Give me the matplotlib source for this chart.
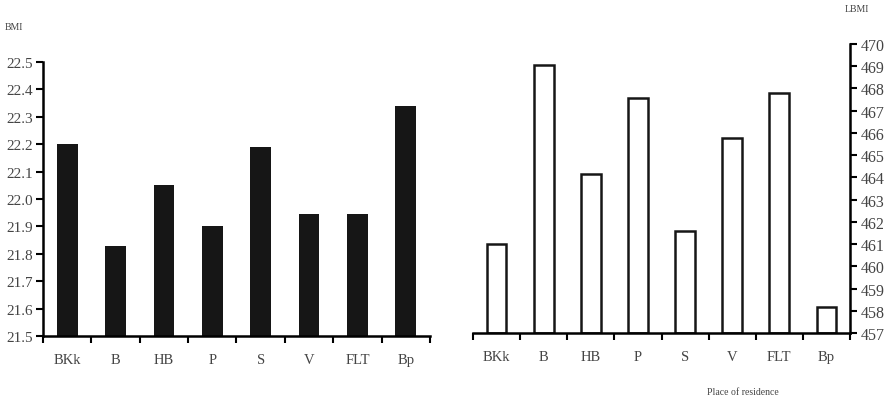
import matplotlib
matplotlib.use("Agg")
import matplotlib.pyplot as plt
import numpy as np

categories = ["BKk", "B", "HB", "P", "S", "V", "FLT", "Bp"]
bmi_values = [22.20, 21.83, 22.05, 21.90, 22.19, 21.945, 21.945, 22.34]
lbmi_values = [461.0, 469.05, 464.15, 467.55, 461.6, 465.77, 467.8, 458.15]
bmi_ticks = [21.5, 21.6, 21.7, 21.8, 21.9, 22.0, 22.1, 22.2, 22.3, 22.4, 22.5]
lbmi_ticks = list(range(457, 471))

plt.rcParams['font.family'] = ['Liberation Serif', 'DejaVu Serif']
txt = '#444444'

fig = plt.figure(figsize=(8.9, 4.02), dpi=100)
x = np.arange(len(categories))

# Left chart (BMI)
ax1 = fig.add_axes([43/890, 1-337/402, 387/890, 274/402])
ax1.bar(x, np.array(bmi_values) - 21.5, bottom=21.5, width=0.43, color='#161616')
ax1.set_ylim(21.5, 22.5)
ax1.set_xlim(-0.5, len(categories) - 0.5)
ax1.set_yticks(bmi_ticks)
ax1.set_yticklabels([f"{t:.1f}" for t in bmi_ticks], fontsize=11, color=txt)
ax1.set_xticks(np.arange(-0.5, len(categories)))
ax1.set_xticklabels([])
ax1.set_xticks(x, minor=True)
ax1.set_xticklabels(categories, minor=True, fontsize=10.5, color=txt)
ax1.tick_params(axis='x', which='minor', length=0, pad=12)
ax1.tick_params(axis='x', which='major', direction='out', length=5, width=1.5)
ax1.tick_params(axis='y', direction='out', length=5, width=1.5, pad=2)
for s in ['top', 'right']:
    ax1.spines[s].set_visible(False)
for s in ['left', 'bottom']:
    ax1.spines[s].set_linewidth(1.8)
fig.text(5/890, 1-27/402, "BMI", fontsize=7, color=txt, va='center', ha='left')

# Right chart (LBMI)
ax2 = fig.add_axes([473/890, 1-334/402, 377/890, 289/402])
ax2.bar(x, np.array(lbmi_values) - 457, bottom=457, width=0.42, facecolor='white',
        edgecolor='#161616', linewidth=1.8)
ax2.set_ylim(457, 470)
ax2.set_xlim(-0.5, len(categories) - 0.5)
ax2.yaxis.tick_right()
ax2.set_yticks(lbmi_ticks)
ax2.set_yticklabels([str(t) for t in lbmi_ticks], fontsize=11.5, color=txt)
ax2.set_xticks(np.arange(-0.5, len(categories)))
ax2.set_xticklabels([])
ax2.set_xticks(x, minor=True)
ax2.set_xticklabels(categories, minor=True, fontsize=10.5, color=txt)
ax2.tick_params(axis='x', which='minor', length=0, pad=12)
ax2.tick_params(axis='x', which='major', direction='out', length=5, width=1.5)
ax2.tick_params(axis='y', direction='out', length=5, width=1.5, pad=3)
for s in ['top', 'left']:
    ax2.spines[s].set_visible(False)
for s in ['right', 'bottom']:
    ax2.spines[s].set_linewidth(1.8)
fig.text(845/890, 1-10/402, "LBMI", fontsize=7, color=txt, va='center', ha='left')
fig.text(743/890, 1-393/402, "Place of residence", fontsize=7, color=txt, va='center', ha='center')

fig.savefig("out.png", dpi=100, facecolor='white')
